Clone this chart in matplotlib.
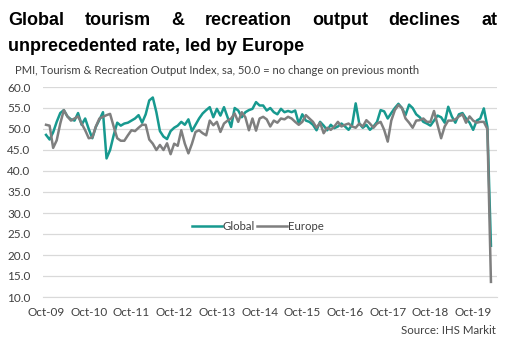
import matplotlib
matplotlib.use("Agg")
import matplotlib.pyplot as plt
import pandas as pd

# monthly PMI readings, Oct-2009 .. Mar-2020
months = pd.date_range("2009-10-01", "2020-03-01", freq="MS")

global_idx = [
    48.6, 47.5, 49.2, 51.7, 53.8, 54.5, 53.0, 52.3, 52.0, 53.8, 51.0, 52.5,
    50.0, 47.8, 50.5, 52.2, 54.0, 43.0, 45.0, 48.5, 51.5, 50.8, 51.3, 51.5,
    52.0, 52.5, 53.3, 51.5, 53.5, 56.8, 57.5, 54.0, 49.5, 48.2, 47.6, 49.5,
    50.3, 50.8, 51.7, 51.0, 52.3, 49.5, 51.0, 52.5, 53.7, 54.5, 55.2, 52.8,
    54.8, 53.2, 55.2, 52.8, 50.5, 55.0, 54.4, 52.8, 54.0, 54.5, 54.8, 56.4,
    55.6, 55.6, 54.4, 55.0, 54.0, 53.5, 54.8, 54.0, 54.3, 54.0, 54.4, 51.3,
    53.5, 52.0, 51.7, 51.0, 49.7, 51.7, 50.8, 49.7, 51.0, 50.2, 50.6, 51.3,
    50.6, 49.8, 51.0, 56.1, 51.3, 50.3, 51.0, 49.8, 50.6, 51.7, 54.5, 54.2,
    52.5, 53.8, 55.0, 56.0, 55.0, 53.3, 55.8, 55.0, 53.5, 52.8, 51.7, 51.3,
    50.8, 52.0, 53.2, 52.8, 51.5, 55.3, 53.0, 51.5, 53.5, 53.8, 52.5, 51.5,
    49.8, 52.0, 52.5, 54.9, 50.5, 22.2,
]

europe_idx = [
    51.0, 50.8, 45.5, 47.3, 51.3, 54.5, 53.0, 52.0, 52.5, 53.0, 51.3, 49.7,
    47.8, 48.0, 50.6, 52.5, 52.9, 53.3, 53.6, 50.6, 47.8, 47.2, 47.2, 48.5,
    49.7, 49.5, 50.3, 51.0, 51.0, 47.5, 46.5, 45.0, 46.2, 45.0, 46.6, 44.0,
    46.5, 46.0, 49.7, 46.5, 44.2, 46.5, 49.3, 49.7, 49.0, 48.5, 52.0, 50.9,
    51.7, 49.3, 51.3, 52.0, 52.5, 53.7, 51.7, 54.0, 52.8, 49.7, 52.5, 49.6,
    52.5, 52.9, 52.3, 50.6, 52.0, 51.5, 52.5, 52.3, 52.9, 52.5, 51.7, 51.0,
    51.7, 53.3, 52.5, 51.7, 50.3, 51.5, 49.0, 50.3, 49.8, 50.6, 51.7, 50.6,
    51.0, 51.3, 50.6, 50.3, 51.3, 50.6, 52.1, 51.3, 50.3, 51.3, 51.7, 49.8,
    47.0, 52.0, 54.5, 55.7, 55.0, 52.5, 51.5, 50.3, 52.0, 52.1, 52.5, 51.7,
    51.7, 54.3, 51.0, 47.8, 50.6, 52.0, 52.0, 52.3, 53.0, 53.5, 51.5, 53.0,
    52.0, 51.5, 51.7, 51.7, 50.0, 13.6,
]

yticks = [10, 15, 20, 25, 30, 35, 40, 45, 50, 55, 60]

TEAL = "#17998f"
GREY = "#7f7f7f"
TXT = "#404040"
W, H = 523, 359

fig = plt.figure(figsize=(W / 100, H / 100), dpi=100)
ax = fig.add_axes([43 / W, 1 - 297 / H, (497 - 43) / W, (297 - 87) / H])

x = list(range(len(months)))
ax.plot(x, global_idx, color=TEAL, lw=1.8, label="Global", zorder=3)
ax.plot(x, europe_idx, color=GREY, lw=1.8, label="Europe", zorder=3)

ax.set_ylim(10, 60)
ax.set_xlim(-0.85, 126.7)
ax.set_yticks(yticks)
ax.set_yticklabels([f"{v:.1f}" for v in yticks])
ticks = [i for i, m in enumerate(months) if m.month == 10]
ax.set_xticks(ticks)
ax.set_xticklabels([months[i].strftime("%b-%y") for i in ticks])
ax.yaxis.grid(True, color="#d9d9d9", lw=0.9)
ax.set_axisbelow(True)
for s in ["top", "right", "left"]:
    ax.spines[s].set_visible(False)
ax.spines["bottom"].set_color("#d9d9d9")
ax.tick_params(length=0, labelsize=8.5, colors=TXT)
ax.tick_params(axis="x", pad=7)
ax.tick_params(axis="y", pad=9)
for lab in ax.get_xticklabels() + ax.get_yticklabels():
    lab.set_family("Lato")

leg = ax.legend(loc="center", bbox_to_anchor=(258 / W, 1 - 226 / H),
                bbox_transform=fig.transFigure, ncol=2, frameon=False,
                handlelength=2.6, handletextpad=0.1, columnspacing=0.2,
                prop={"family": "Lato", "size": 8.2})
for t in leg.get_texts():
    t.set_color(TXT)

# title: first line justified between x=8 and x=497 px
title_style = dict(fontsize=13, fontweight="bold", family="Liberation Sans",
                   va="baseline")
words = "Global tourism & recreation output declines at".split()
texts = [fig.text(0, 1 - 25 / H, w_, **title_style) for w_ in words]
renderer = fig.canvas.get_renderer()
widths = [t.get_window_extent(renderer).width for t in texts]
gap = (497 - 8 - sum(widths)) / (len(words) - 1)
pos = 8
for t, wd in zip(texts, widths):
    t.set_x(pos / W)
    pos += wd + gap
fig.text(8 / W, 1 - 51 / H, "unprecedented rate, led by Europe", **title_style)

fig.text(15 / W, 1 - 71 / H,
         "PMI, Tourism & Recreation Output Index, sa, 50.0 = no change on previous month",
         fontsize=8.1, family="Lato", color=TXT, va="center")
fig.text(496 / W, 1 - 331 / H, "Source: IHS Markit", fontsize=8.3, family="Lato",
         color=TXT, ha="right", va="center")

fig.savefig("out.png", dpi=100)
